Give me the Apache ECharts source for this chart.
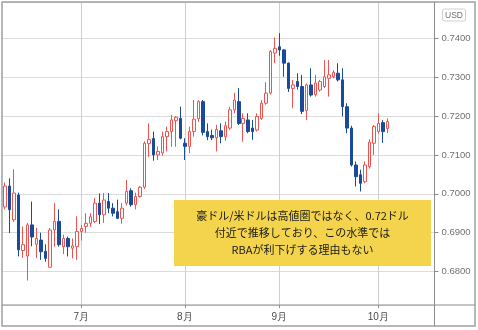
<!DOCTYPE html>
<html><head><meta charset="utf-8">
<script src="https://cdn.jsdelivr.net/npm/echarts@6/dist/echarts.min.js"></script>
<style>html,body{margin:0;padding:0;background:#fff}#c{width:478px;height:330px}</style>
</head><body><div id="c"></div>
<script>
const tradeDates = [
'2020-06-08','2020-06-09','2020-06-10','2020-06-11','2020-06-12','2020-06-15','2020-06-16','2020-06-17','2020-06-18','2020-06-19',
'2020-06-22','2020-06-23','2020-06-24','2020-06-25','2020-06-26','2020-06-29','2020-06-30',
'2020-07-01','2020-07-02','2020-07-03','2020-07-06','2020-07-07','2020-07-08','2020-07-09','2020-07-10','2020-07-13','2020-07-14',
'2020-07-15','2020-07-16','2020-07-17','2020-07-20','2020-07-21','2020-07-22','2020-07-23','2020-07-24','2020-07-27','2020-07-28',
'2020-07-29','2020-07-30','2020-07-31',
'2020-08-03','2020-08-04','2020-08-05','2020-08-06','2020-08-07','2020-08-10','2020-08-11','2020-08-12','2020-08-13','2020-08-14',
'2020-08-17','2020-08-18','2020-08-19','2020-08-20','2020-08-21','2020-08-24','2020-08-25','2020-08-26','2020-08-27','2020-08-28','2020-08-31',
'2020-09-01','2020-09-02','2020-09-03','2020-09-04','2020-09-07','2020-09-08','2020-09-09','2020-09-10','2020-09-11','2020-09-14',
'2020-09-15','2020-09-16','2020-09-17','2020-09-18','2020-09-21','2020-09-22','2020-09-23','2020-09-24','2020-09-25','2020-09-28',
'2020-09-29','2020-09-30',
'2020-10-01','2020-10-02','2020-10-05'];
const padDates = ['2020-10-06','2020-10-07','2020-10-08','2020-10-09','2020-10-12','2020-10-13','2020-10-14','2020-10-15','2020-10-16','2020-10-19'];

const openVals = [
0.6966,0.7020,0.6933,0.6997,0.6854,0.6840,0.6920,0.6870,0.6881,0.6852,
0.6811,0.6907,0.6929,0.6864,0.6885,0.6860,0.6864,0.6903,0.6916,0.6924,
0.6929,0.6976,0.6946,0.6980,0.6963,0.6954,0.6937,0.6976,0.7008,0.6972,
0.6993,0.7017,0.7129,0.7142,0.7100,0.7105,0.7147,0.7160,0.7188,0.7194,
0.7130,0.7122,0.7160,0.7193,0.7237,0.7160,0.7150,0.7144,0.7162,0.7147,
0.7169,0.7216,0.7237,0.7181,0.7190,0.7169,0.7164,0.7194,0.7233,0.7259,
0.7362,0.7378,0.7370,0.7336,0.7271,0.7289,0.7276,0.7214,0.7280,0.7255,
0.7267,0.7276,0.7297,0.7301,0.7310,0.7293,0.7224,0.7169,0.7074,0.7049,
0.7031,0.7070,0.7130,0.7160,0.7183,0.7168];
const closeVals = [
0.7020,0.6959,0.7002,0.6856,0.6869,0.6920,0.6889,0.6885,0.6851,0.6834,
0.6907,0.6929,0.6869,0.6885,0.6864,0.6866,0.6903,0.6911,0.6924,0.6941,
0.6976,0.6946,0.6984,0.6963,0.6950,0.6937,0.6963,0.7006,0.6972,0.6993,
0.7017,0.7130,0.7140,0.7100,0.7109,0.7147,0.7160,0.7190,0.7197,0.7143,
0.7122,0.7160,0.7192,0.7237,0.7158,0.7147,0.7144,0.7165,0.7147,0.7175,
0.7216,0.7241,0.7181,0.7194,0.7160,0.7160,0.7199,0.7233,0.7259,0.7366,
0.7374,0.7370,0.7336,0.7271,0.7280,0.7276,0.7212,0.7280,0.7254,0.7285,
0.7289,0.7301,0.7306,0.7312,0.7293,0.7224,0.7169,0.7074,0.7044,0.7027,
0.7074,0.7133,0.7173,0.7181,0.7160,0.7186];
const lowVals = [
0.6960,0.6899,0.6928,0.6839,0.6835,0.6777,0.6865,0.6835,0.6830,0.6825,
0.6811,0.6864,0.6864,0.6845,0.6839,0.6834,0.6830,0.6880,0.6900,0.6915,
0.6925,0.6922,0.6925,0.6950,0.6942,0.6935,0.6923,0.6970,0.6967,0.6960,
0.6990,0.7012,0.7095,0.7085,0.7087,0.7098,0.7109,0.7121,0.7121,0.7140,
0.7087,0.7105,0.7147,0.7185,0.7150,0.7138,0.7138,0.7109,0.7130,0.7136,
0.7164,0.7207,0.7177,0.7134,0.7156,0.7139,0.7160,0.7190,0.7229,0.7255,
0.7336,0.7355,0.7301,0.7262,0.7220,0.7268,0.7205,0.7190,0.7250,0.7250,
0.7263,0.7272,0.7250,0.7297,0.7289,0.7199,0.7156,0.7070,0.7019,0.7006,
0.7027,0.7065,0.7100,0.7155,0.7131,0.7156];
const highVals = [
0.7029,0.7040,0.7063,0.7003,0.6916,0.6925,0.6980,0.6912,0.6900,0.6870,
0.6912,0.6976,0.6960,0.6895,0.6890,0.6885,0.6942,0.6920,0.6950,0.6950,
0.6989,0.7001,0.7002,0.7002,0.6976,0.6985,0.6976,0.7036,0.7014,0.7003,
0.7020,0.7135,0.7181,0.7160,0.7122,0.7160,0.7173,0.7203,0.7200,0.7224,
0.7143,0.7173,0.7241,0.7241,0.7241,0.7181,0.7165,0.7177,0.7181,0.7186,
0.7224,0.7260,0.7272,0.7207,0.7207,0.7190,0.7207,0.7241,0.7287,0.7370,
0.7402,0.7413,0.7372,0.7338,0.7293,0.7310,0.7306,0.7284,0.7323,0.7306,
0.7293,0.7344,0.7344,0.7318,0.7336,0.7323,0.7233,0.7175,0.7083,0.7062,
0.7083,0.7140,0.7177,0.7207,0.7190,0.7194];

const tickDates = ['2020-07-01','2020-08-03','2020-09-01','2020-10-01'];
const tickLabels = ['7月','8月','9月','10月'];
const yMin = 0.6714, yMax = 0.7492, ySplits = 8;
const noteLines = ['豪ドル/米ドルは高値圏ではなく、0.72ドル','付近で推移しており、この水準では','RBAが利下げする理由もない'];
const currency = 'USD';

const UP = '#ef5350', DOWN = '#1a4b9b';
const categories = tradeDates.concat(padDates);
const ohlc = openVals.map((o, i) => [o, closeVals[i], lowVals[i], highVals[i]]).concat(padDates.map(() => '-'));
const isTick = (idx, val) => tickDates.indexOf(val) >= 0;

const chart = echarts.init(document.getElementById('c'), null, {renderer: 'canvas'});
chart.setOption({
  animation: false,
  backgroundColor: '#ffffff',
  grid: {left: 2.5, top: 2.5, width: 432, height: 302.5, containLabel: false},
  xAxis: {
    type: 'category', data: categories, boundaryGap: true,
    axisLine: {show: false},
    axisTick: {show: true, alignWithLabel: true, interval: isTick, length: 3, lineStyle: {color: '#8c8c8c'}},
    axisLabel: {interval: isTick, margin: 7, fontSize: 10, color: '#4a4a4a', fontFamily: 'Liberation Sans, Arial, sans-serif',
      formatter: v => { const k = tickDates.indexOf(v); return k >= 0 ? tickLabels[k] : ''; }},
    splitLine: {show: true, interval: isTick, alignWithLabel: true, lineStyle: {color: '#cfcfcf', width: 1}}
  },
  yAxis: {
    type: 'value', position: 'right', min: yMin, max: yMax, splitNumber: ySplits,
    axisLine: {show: false},
    axisTick: {show: true, length: 4, lineStyle: {color: '#8c8c8c'}},
    axisLabel: {margin: 7, fontSize: 9.5, color: '#707070', showMinLabel: false, showMaxLabel: false,
      fontFamily: 'Liberation Sans, Arial, sans-serif', formatter: v => v.toFixed(4)},
    splitLine: {show: true, lineStyle: {color: '#dcdcdc', width: 1}}
  },
  series: [{
    type: 'candlestick', data: ohlc, barWidth: 3,
    itemStyle: {color: '#ffffff', color0: DOWN, borderColor: UP, borderColor0: DOWN, borderWidth: 1},
    emphasis: {disabled: true}
  }],
  graphic: [
    {type: 'rect', z: 100, silent: true, shape: {x: 2, y: 2, width: 473, height: 324}, style: {fill: 'none', stroke: '#a0a0a0', lineWidth: 1.5}},
    {type: 'line', z: 100, silent: true, shape: {x1: 434.5, y1: 2, x2: 434.5, y2: 326}, style: {stroke: '#8c8c8c', lineWidth: 1}},
    {type: 'line', z: 100, silent: true, shape: {x1: 2, y1: 305, x2: 475, y2: 305}, style: {stroke: '#8c8c8c', lineWidth: 1}},
    {type: 'rect', z: 100, silent: true, shape: {x: 442.5, y: 9, width: 23, height: 12, r: 2}, style: {fill: '#ffffff', stroke: '#cfcfcf', lineWidth: 1}},
    {type: 'text', z: 101, silent: true, x: 454, y: 15.5, style: {text: currency, fill: '#707070', fontSize: 8.5, fontFamily: 'Liberation Sans, Arial, sans-serif', align: 'center', verticalAlign: 'middle'}},
    {type: 'rect', z: 100, silent: true, shape: {x: 174, y: 200, width: 257, height: 66}, style: {fill: '#f3d44c'}},
    {type: 'text', z: 101, silent: true, x: 302.5, y: 233, style: {text: noteLines.join('\n'), fill: '#1a1a1a', fontSize: 11, lineHeight: 17,
      fontFamily: 'Noto Sans CJK JP, sans-serif', align: 'center', verticalAlign: 'middle'}}
  ]
});
</script></body></html>
